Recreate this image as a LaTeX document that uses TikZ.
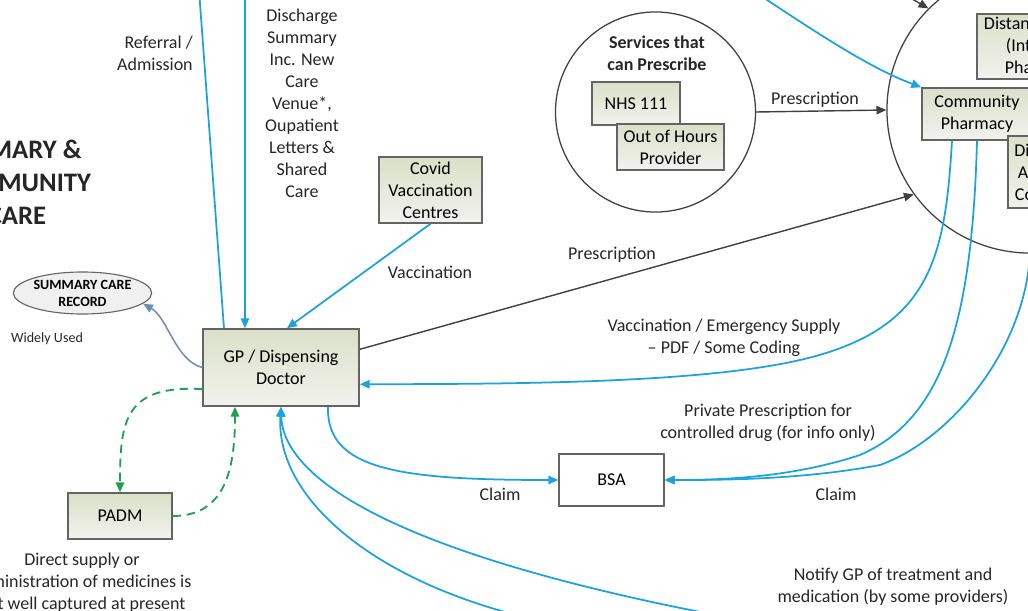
\documentclass[tikz,border=0pt]{standalone}
\usepackage{fontspec}
\setmainfont{Carlito}
\usetikzlibrary{arrows.meta,shapes.geometric}
\definecolor{flowblue}{RGB}{27,163,222}
\definecolor{flowgray}{RGB}{64,64,64}
\definecolor{padmgreen}{RGB}{30,160,80}
\definecolor{scrblue}{RGB}{110,143,181}
\definecolor{boxedge}{RGB}{100,100,100}
\definecolor{boxtop}{RGB}{218,224,200}
\definecolor{boxbot}{RGB}{242,242,238}
\begin{document}
\begin{tikzpicture}[x=0.025cm,y=-0.025cm,
	font=\fontsize{12.8}{15.6}\selectfont,
	box/.style={draw=boxedge, line width=1.1pt, top color=boxtop, bottom color=boxbot, align=center, inner sep=0pt},
	plainbox/.style={draw=boxedge, line width=1.1pt, fill=white, align=center, inner sep=0pt},
	ring/.style={circle, draw=flowgray, line width=0.9pt, inner sep=0pt},
	lbl/.style={align=center, inner sep=0pt, text=black!85},
	blueflow/.style={draw=flowblue, line width=1.25pt, -{Triangle[length=7pt,width=6pt]}},
	grayflow/.style={draw=flowgray, line width=1pt, -{Triangle[length=7pt,width=6pt]}},
	padmflow/.style={draw=padmgreen, line width=1.3pt, dash pattern=on 6pt off 4pt, -{Triangle[length=7pt,width=6pt]}}]
	\path[use as bounding box, clip] (0,0) rectangle (1028,611);

	% circles
	\node[ring, minimum size=5cm] (services) at (655.5,112) {};
	\node[ring, minimum size=7.15cm] (pharm) at (1030,110) {};
	\node[lbl, font=\fontsize{12.8}{15.6}\bfseries\selectfont] (servtitle) at (657,53) {Services that\\can Prescribe};

	% boxes
	\node[box, minimum width=3.9cm, minimum height=1.925cm] (gp) at (281,367.5) {GP / Dispensing\\Doctor};
	\node[box, minimum width=2.6cm, minimum height=1.15cm] (padm) at (120,516) {PADM};
	\node[box, minimum width=2.575cm, minimum height=1.65cm] (covid) at (430.5,190) {Covid\\Vaccination\\Centres};
	\node[box, minimum width=2.2cm, minimum height=1.075cm] (nhs) at (636,103.5) {NHS 111};
	\node[box, minimum width=2.675cm, minimum height=1.15cm] (ooh) at (670.5,147) {Out of Hours\\Provider};
	\node[plainbox, minimum width=2.625cm, minimum height=1.3cm] (bsa) at (611.5,480) {BSA};
	\node[box, minimum width=3.2cm, minimum height=1.625cm] (distance) at (1041,46.5) {Distance Selling\\(Internet)\\Pharmacy};
	\node[box, minimum width=2.75cm, minimum height=1.3cm] (cp) at (977,114) {Community\\Pharmacy};
	\node[box, minimum width=2.3cm, minimum height=1.8cm] (dac) at (1054,172) {Dispensing\\Appliance\\Contractor};
	\node[ellipse, draw=flowgray!80, line width=0.8pt, fill=gray!12, minimum width=3.275cm, minimum height=1.05cm, inner sep=0pt, align=center,
		font=\fontsize{10}{12}\bfseries\selectfont] (scr) at (82.5,293) {SUMMARY CARE\\RECORD};

	% loose ends outside the frame
	\coordinate (reftop) at (199,-10);
	\coordinate (distop) at (245,-10);
	\coordinate (blacktop) at (900,-8);
	\coordinate (bluetop) at (755,-8);
	\coordinate (notifyouter) at (560,625);
	\coordinate (notifyinner) at (770,625);

	% connectors
	\draw[draw=flowblue, line width=1.25pt] ([xshift=-1.425cm]gp.north) -- (reftop);
	\draw[blueflow] (distop) -- ([xshift=-0.9cm]gp.north);
	\draw[blueflow] (covid.south) -- ([xshift=0.15cm]gp.north);
	\draw[grayflow] (gp.13) -- (pharm.216);
	\draw[grayflow] (services.east) -- (pharm.west);
	\draw[grayflow] (blacktop) -- (pharm.135);
	\draw[blueflow] (bluetop) .. controls (820,35) and (870,68) .. (cp.north west);
	\draw[blueflow] ([xshift=-0.625cm]cp.south) .. controls (945,260) and (930,330) .. (800,360) .. controls (700,383) and (520,384) .. (gp.-12);
	\draw[blueflow] (cp.south) .. controls (972,330) and (940,420) .. (860,455) .. controls (790,478) and (720,480) .. (bsa.east);
	\draw[blueflow] (pharm.south) .. controls (1025,350) and (950,440) .. (880,465) .. controls (800,480) and (720,480) .. (bsa.east);
	\draw[blueflow] ([xshift=1.175cm]gp.south) .. controls (326,470) and (400,480) .. (bsa.west);
	\draw[blueflow] (notifyouter) .. controls (380,590) and (275,500) .. (gp.south);
	\draw[blueflow] (notifyinner) .. controls (400,560) and (283,480) .. (gp.south);
	\draw[draw=scrblue, line width=1.1pt, -{Triangle[length=7pt,width=6pt]}] (gp.west) .. controls (175,360) and (168,318) .. (scr.-10);
	\draw[padmflow] ([yshift=-0.54cm]gp.west) .. controls (125,385) and (120,420) .. (padm.north);
	\draw[padmflow] (padm.east) .. controls (225,516) and (235,470) .. ([xshift=-1.15cm]gp.south);

	% labels
	\node[lbl, font=\fontsize{19}{23.5}\bfseries\selectfont] (title) at (17,182) {PRIMARY \&\\COMMUNITY\\CARE};
	\node[lbl, anchor=east, align=right] (referlbl) at (193,53) {Referral /\\Admission};
	\node[lbl] (dischlbl) at (302,103.5) {Discharge\\Summary\\Inc. New\\Care\\Venue*,\\Oupatient\\Letters \&\\Shared\\Care};
	\node[lbl] (vaccinlbl) at (430,272) {Vaccination};
	\node[lbl] (presclbl) at (612,255) {Prescription};
	\node[lbl] (servpresclbl) at (815,100) {Prescription};
	\node[lbl] (emerglbl) at (724,338) {Vaccination / Emergency Supply\\– PDF / Some Coding};
	\node[lbl] (privlbl) at (768,423) {Private Prescription for\\controlled drug (for info only)};
	\node[lbl] (gpclaimlbl) at (500,494) {Claim};
	\node[lbl] (cpclaimlbl) at (836,494) {Claim};
	\node[lbl] (notifylbl) at (893,587) {Notify GP of treatment and\\medication (by some providers)};
	\node[lbl, font=\fontsize{10}{12}\selectfont] (usedlbl) at (47,339) {Widely Used};
	\node[lbl] (padmlbl) at (82,583) {Direct supply or\\administration of medicines is\\not well captured at present};
\end{tikzpicture}
\end{document}
